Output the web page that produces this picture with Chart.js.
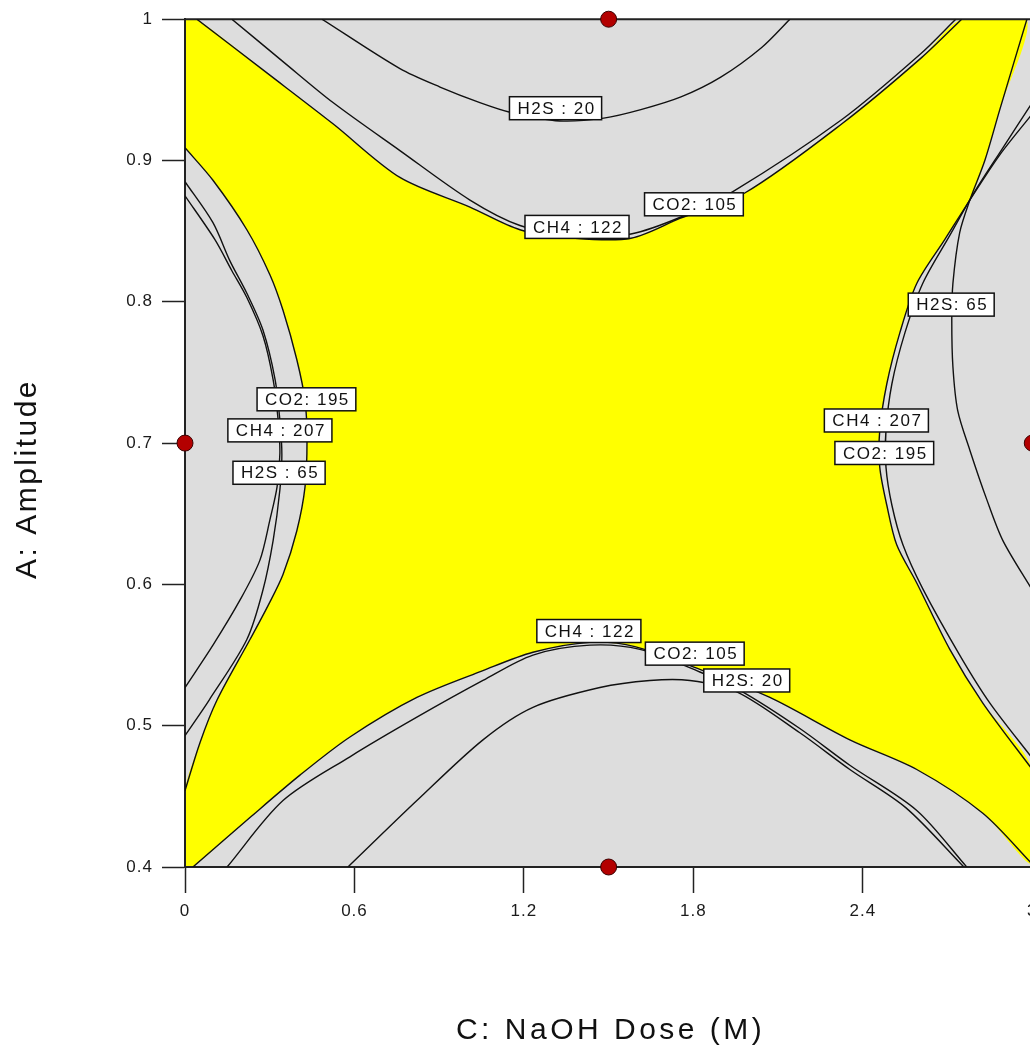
<!DOCTYPE html>
<html>
<head>
<meta charset="utf-8">
<script src="https://cdn.jsdelivr.net/npm/chart.js@4.4.1/dist/chart.umd.min.js"></script>
<style>
  html, body { margin: 0; padding: 0; background: #fff; overflow: hidden; }
  #contenedor { width: 1045px; height: 1048px; }
</style>
</head>
<body>
<div id="contenedor"><canvas id="graficoOverlay"></canvas></div>
<script>
// Ejes
const ticksX = [0, 0.6, 1.2, 1.8, 2.4, 3];
const ticksY = [0.4, 0.5, 0.6, 0.7, 0.8, 0.9, 1];
const tituloX = "C: NaOH Dose (M)";
const tituloY = "A: Amplitude";

// Contornos de arriba  [NaOH, amplitud]
const h2s20Arriba = [[0.485, 1.0], [0.761, 0.965], [0.903, 0.952], [1.044, 0.941], [1.154, 0.934], [1.327, 0.928],
  [1.483, 0.930], [1.614, 0.936], [1.756, 0.945], [1.897, 0.959], [2.042, 0.980], [2.142, 1.0]];
const co2_105Arriba = [[0.166, 1.0], [0.347, 0.970], [0.524, 0.941], [0.761, 0.907], [1.009, 0.872], [1.186, 0.854],
  [1.381, 0.846], [1.579, 0.848], [1.756, 0.860], [1.940, 0.878], [2.326, 0.929], [2.602, 0.975], [2.729, 1.0]];
const ch4_122Arriba = [[0.042, 1.0], [0.290, 0.962], [0.524, 0.926], [0.761, 0.888], [1.009, 0.867], [1.186, 0.851],
  [1.381, 0.845], [1.579, 0.845], [1.752, 0.859], [1.982, 0.877], [2.326, 0.926], [2.609, 0.973], [2.750, 1.0]];

// Contornos de abajo
const ch4_122Abajo = [[0.028, 0.4], [0.230, 0.435], [0.407, 0.465], [0.584, 0.492], [0.821, 0.520], [1.055, 0.539],
  [1.232, 0.552], [1.434, 0.559], [1.593, 0.556], [1.834, 0.539], [2.071, 0.520], [2.354, 0.490], [2.591, 0.469],
  [2.825, 0.438], [3.0, 0.402]];
const co2_105Abajo = [[0.149, 0.4], [0.347, 0.447], [0.584, 0.478], [0.821, 0.506], [1.055, 0.532], [1.232, 0.550],
  [1.434, 0.557], [1.611, 0.554], [1.823, 0.538], [1.965, 0.525], [2.177, 0.498], [2.354, 0.472], [2.591, 0.440],
  [2.768, 0.4]];
const h2s20Abajo = [[0.577, 0.4], [0.821, 0.447], [1.055, 0.490], [1.232, 0.513], [1.469, 0.527], [1.646, 0.532],
  [1.788, 0.532], [1.954, 0.524], [2.177, 0.495], [2.354, 0.469], [2.552, 0.442], [2.758, 0.4]];

// Contornos de la izquierda
const co2_195Izq = [[0, 0.909], [0.099, 0.886], [0.219, 0.851], [0.301, 0.819], [0.347, 0.794], [0.396, 0.759],
  [0.425, 0.730], [0.432, 0.702], [0.425, 0.669], [0.396, 0.638], [0.347, 0.607], [0.294, 0.585], [0.230, 0.561],
  [0.113, 0.518], [0.053, 0.488], [0, 0.454]];
const ch4_207Izq = [[0, 0.885], [0.099, 0.856], [0.159, 0.829], [0.219, 0.806], [0.276, 0.780], [0.319, 0.745],
  [0.336, 0.716], [0.343, 0.692], [0.336, 0.667], [0.312, 0.631], [0.276, 0.596], [0.219, 0.561], [0.085, 0.518],
  [0, 0.493]];
const h2s65Izq = [[0, 0.875], [0.106, 0.844], [0.166, 0.822], [0.219, 0.803], [0.276, 0.776], [0.312, 0.745],
  [0.329, 0.718], [0.336, 0.693], [0.326, 0.669], [0.301, 0.646], [0.265, 0.617], [0.195, 0.589], [0.099, 0.557],
  [0, 0.527]];

// Contornos de la derecha
const h2s65Der = [[2.981, 1.0], [2.885, 0.936], [2.832, 0.900], [2.779, 0.872], [2.743, 0.849], [2.719, 0.813],
  [2.715, 0.787], [2.719, 0.754], [2.736, 0.723], [2.779, 0.695], [2.839, 0.660], [2.896, 0.631], [3.0, 0.596]];
const ch4_207Der = [[3.0, 0.933], [2.885, 0.904], [2.779, 0.872], [2.690, 0.844], [2.591, 0.813], [2.531, 0.778],
  [2.485, 0.742], [2.460, 0.709], [2.460, 0.683], [2.485, 0.656], [2.520, 0.628], [2.591, 0.601], [2.708, 0.554],
  [2.825, 0.516], [3.0, 0.469]];
const co2_195Der = [[3.0, 0.941], [2.896, 0.909], [2.796, 0.878], [2.708, 0.847], [2.612, 0.813], [2.549, 0.778],
  [2.503, 0.742], [2.482, 0.709], [2.482, 0.683], [2.503, 0.656], [2.542, 0.628], [2.612, 0.597], [2.743, 0.550],
  [2.850, 0.516], [3.0, 0.477]];

// Zona que cumple todas las restricciones (amarilla), armada con los mismos contornos
const regionAmarilla = [[0, 1], ...ch4_122Arriba, ...h2s65Der.slice(0, 4), ...ch4_207Der.slice(3),
  ...ch4_122Abajo.slice().reverse(), [0, 0.4], ...co2_195Izq.slice().reverse()];
const regionGris = [[0, 0.4], [0, 1], [3, 1], [3, 0.4]];

// Puntos de diseño
const disenoX = [1.5, 0, 1.5, 3];
const disenoY = [1, 0.7, 0.4, 0.7];

// Etiquetas de los contornos
const etiquetasTexto = ["H2S : 20", "CO2: 105", "CH4 : 122", "CO2: 195", "CH4 : 207", "H2S : 65",
  "H2S: 65", "CH4 : 207", "CO2: 195", "CH4 : 122", "CO2: 105", "H2S: 20"];
const etiquetasX = [1.312, 1.802, 1.388, 0.430, 0.336, 0.333, 2.713, 2.448, 2.476, 1.430, 1.805, 1.989];
const etiquetasY = [0.937, 0.869, 0.853, 0.731, 0.709, 0.679, 0.798, 0.716, 0.693, 0.567, 0.551, 0.532];

const aPuntos = (arr) => arr.map((p) => ({ x: p[0], y: p[1] }));
const fuente = '"Liberation Sans", Arial, sans-serif';

const curvas = [h2s20Arriba, co2_105Arriba, ch4_122Arriba, ch4_122Abajo, co2_105Abajo, h2s20Abajo,
  co2_195Izq, ch4_207Izq, h2s65Izq, h2s65Der, ch4_207Der, co2_195Der];

const datasets = [
  {
    data: aPuntos(regionGris), showLine: true, fill: "shape", tension: 0,
    backgroundColor: "#dddddd", borderColor: "rgba(0,0,0,0)", pointRadius: 0, order: 20,
  },
  {
    data: aPuntos(regionAmarilla), showLine: true, fill: "shape", tension: 0.3,
    backgroundColor: "#ffff00", borderColor: "rgba(0,0,0,0)", pointRadius: 0, order: 10,
  },
  ...curvas.map((c) => ({
    data: aPuntos(c), showLine: true, fill: false, tension: 0.3,
    borderColor: "#111", borderWidth: 1.4, pointRadius: 0, order: 5,
  })),
  {
    data: disenoX.map((x, i) => ({ x, y: disenoY[i] })), showLine: false, clip: false,
    pointRadius: 8, pointBackgroundColor: "#b30000", pointBorderColor: "#3a0000", pointBorderWidth: 1, order: 1,
  },
];

const espaciado = {
  id: "espaciado",
  beforeDraw(chart) { chart.ctx.letterSpacing = "1px"; },
};

// borde de arriba y de la derecha del area
const marco = {
  id: "marco",
  beforeDatasetsDraw(chart) {
    const { ctx, chartArea: a } = chart;
    ctx.save();
    ctx.strokeStyle = "#222";
    ctx.lineWidth = 2;
    ctx.beginPath();
    ctx.moveTo(a.left, a.top);
    ctx.lineTo(a.right, a.top);
    ctx.lineTo(a.right, a.bottom);
    ctx.stroke();
    ctx.restore();
  },
};

const etiquetas = {
  id: "etiquetas",
  afterDatasetsDraw(chart) {
    const { ctx, scales } = chart;
    ctx.save();
    ctx.font = "17px " + fuente;
    ctx.letterSpacing = "1.5px";
    ctx.textAlign = "center";
    ctx.textBaseline = "middle";
    etiquetasTexto.forEach((t, i) => {
      const px = scales.x.getPixelForValue(etiquetasX[i]);
      const py = scales.y.getPixelForValue(etiquetasY[i]);
      const w = ctx.measureText(t).width + 14;
      const h = 23;
      ctx.fillStyle = "#fff";
      ctx.fillRect(px - w / 2, py - h / 2, w, h);
      ctx.strokeStyle = "#111";
      ctx.lineWidth = 1.5;
      ctx.strokeRect(px - w / 2, py - h / 2, w, h);
      ctx.fillStyle = "#111";
      ctx.fillText(t, px + 1, py + 1);
    });
    ctx.restore();
  },
};

const titulos = {
  id: "titulos",
  afterDraw(chart) {
    const { ctx, chartArea: a } = chart;
    ctx.save();
    ctx.font = "30px " + fuente;
    ctx.fillStyle = "#111";
    ctx.textAlign = "center";
    ctx.textBaseline = "alphabetic";
    ctx.letterSpacing = "3.5px";
    ctx.fillText(tituloX, (a.left + a.right) / 2 + 2, 1039);
    ctx.letterSpacing = "2.5px";
    ctx.translate(36, 479);
    ctx.rotate(-Math.PI / 2);
    ctx.fillText(tituloY, 0, 0);
    ctx.restore();
  },
};

const ctx = document.getElementById("graficoOverlay").getContext("2d");
const grafico = new Chart(ctx, {
  type: "scatter",
  data: { datasets },
  options: {
    responsive: true,
    maintainAspectRatio: false,
    animation: false,
    events: [],
    layout: { padding: { top: 19, right: 12, bottom: 0, left: 0 } },
    plugins: {
      legend: { display: false },
      tooltip: { enabled: false },
      filler: { drawTime: "beforeDraw" },
    },
    scales: {
      x: {
        type: "linear", min: 0, max: 3,
        afterBuildTicks: (s) => { s.ticks = ticksX.map((v) => ({ value: v })); },
        afterFit: (s) => { s.height = 181; },
        ticks: {
          callback: (v) => String(v), autoSkip: false, maxRotation: 0,
          font: { family: fuente, size: 17 }, color: "#1a1a1a", padding: 8,
        },
        grid: { drawOnChartArea: false, drawTicks: true, tickLength: 26, tickColor: "#222", tickWidth: 1.5 },
        border: { display: true, color: "#222", width: 2 },
      },
      y: {
        type: "linear", min: 0.4, max: 1,
        afterBuildTicks: (s) => { s.ticks = ticksY.map((v) => ({ value: v })); },
        afterFit: (s) => { s.width = 185; },
        ticks: {
          callback: (v) => String(v), autoSkip: false,
          font: { family: fuente, size: 17 }, color: "#1a1a1a", padding: 9,
        },
        grid: { drawOnChartArea: false, drawTicks: true, tickLength: 23, tickColor: "#222", tickWidth: 1.5 },
        border: { display: true, color: "#222", width: 2 },
      },
    },
  },
  plugins: [espaciado, marco, etiquetas, titulos],
});
</script>
</body>
</html>
